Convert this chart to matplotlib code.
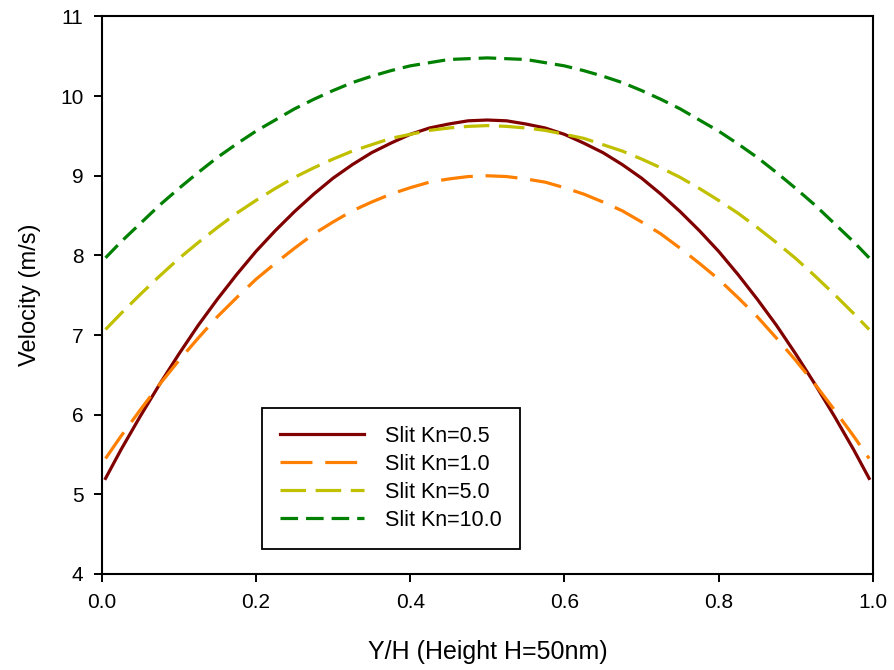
import matplotlib
matplotlib.use("Agg")
import matplotlib.pyplot as plt

plt.rcParams['font.family'] = ['Liberation Sans', 'DejaVu Sans']

x = [0.005, 0.025, 0.05, 0.075, 0.1, 0.125, 0.15, 0.175, 0.2, 0.225, 0.25,
     0.275, 0.3, 0.325, 0.35, 0.375, 0.4, 0.425, 0.45, 0.475, 0.5,
     0.525, 0.55, 0.575, 0.6, 0.625, 0.65, 0.675, 0.7, 0.725, 0.75,
     0.775, 0.8, 0.825, 0.85, 0.875, 0.9, 0.925, 0.95, 0.975, 0.995]
kn05 = [5.20, 5.56, 5.98, 6.38, 6.76, 7.12, 7.45, 7.76, 8.05, 8.31, 8.55,
        8.77, 8.97, 9.14, 9.29, 9.41, 9.52, 9.60, 9.65, 9.69, 9.70,
        9.69, 9.65, 9.60, 9.52, 9.41, 9.29, 9.14, 8.97, 8.77, 8.55,
        8.31, 8.05, 7.76, 7.45, 7.12, 6.76, 6.38, 5.98, 5.56, 5.20]
kn10 = [5.45, 5.73, 6.06, 6.38, 6.68, 6.96, 7.23, 7.47, 7.70, 7.90, 8.09,
        8.27, 8.42, 8.56, 8.67, 8.77, 8.85, 8.92, 8.96, 8.99, 9.00,
        8.99, 8.96, 8.92, 8.85, 8.77, 8.67, 8.56, 8.42, 8.27, 8.09,
        7.90, 7.70, 7.47, 7.23, 6.96, 6.68, 6.38, 6.06, 5.73, 5.45]
kn50 = [7.07, 7.27, 7.51, 7.74, 7.96, 8.16, 8.35, 8.53, 8.69, 8.84, 8.98,
        9.10, 9.21, 9.31, 9.39, 9.47, 9.52, 9.57, 9.60, 9.62, 9.63,
        9.62, 9.60, 9.57, 9.52, 9.47, 9.39, 9.31, 9.21, 9.10, 8.98,
        8.84, 8.69, 8.53, 8.35, 8.16, 7.96, 7.74, 7.51, 7.27, 7.07]
kn100 = [7.97, 8.17, 8.40, 8.63, 8.84, 9.04, 9.23, 9.40, 9.56, 9.70, 9.84,
         9.96, 10.07, 10.17, 10.25, 10.32, 10.38, 10.42, 10.46, 10.47, 10.48,
         10.47, 10.46, 10.42, 10.38, 10.32, 10.25, 10.17, 10.07, 9.96, 9.84,
         9.70, 9.56, 9.40, 9.23, 9.04, 8.84, 8.63, 8.40, 8.17, 7.97]
labels = ["Slit Kn=0.5", "Slit Kn=1.0", "Slit Kn=5.0", "Slit Kn=10.0"]
xticks = [0.0, 0.2, 0.4, 0.6, 0.8, 1.0]
yticks = [4, 5, 6, 7, 8, 9, 10, 11]

fig = plt.figure(figsize=(8.95, 6.7), dpi=100)
ax = fig.add_axes([0.1136, 0.1433, 0.9754 - 0.1136, 0.9754 - 0.1433])

lw = 2.3
ax.plot(x, kn05, color='#800000', lw=lw, solid_joinstyle='round', label=labels[0])
ax.plot(x, kn10, color='#ff8000', lw=lw, dashes=(10, 4), dash_joinstyle='round', label=labels[1])
ax.plot(x, kn50, color='#c0c000', lw=lw, dashes=(8, 3), dash_joinstyle='round', label=labels[2])
ax.plot(x, kn100, color='#008000', lw=lw, dashes=(5.5, 2.5), dash_joinstyle='round', label=labels[3])

ax.set_xlim(0, 1)
ax.set_ylim(4, 11)
ax.set_xticks(xticks)
ax.set_xticklabels([f"{v:.1f}" for v in xticks])
ax.set_yticks(yticks)
ax.tick_params(direction='out', length=6, width=1.4, labelsize=15, top=False, right=False)
ax.tick_params(axis='y', pad=7)
ax.tick_params(axis='x', pad=8)
for s in ax.spines.values():
    s.set_linewidth(1.5)

ax.set_xlabel("Y/H (Height H=50nm)", fontsize=18, labelpad=20)
ax.set_ylabel("Velocity (m/s)", fontsize=17, labelpad=14)

leg = ax.legend(loc='lower left', bbox_to_anchor=(0.208, 0.045), fontsize=15.5,
                handlelength=3.9, handletextpad=0.95, labelspacing=0.32,
                borderpad=0.85, borderaxespad=0, fancybox=False, framealpha=1,
                edgecolor='black')
leg.get_frame().set_linewidth(1.3)

fig.savefig("out.png", dpi=100)
